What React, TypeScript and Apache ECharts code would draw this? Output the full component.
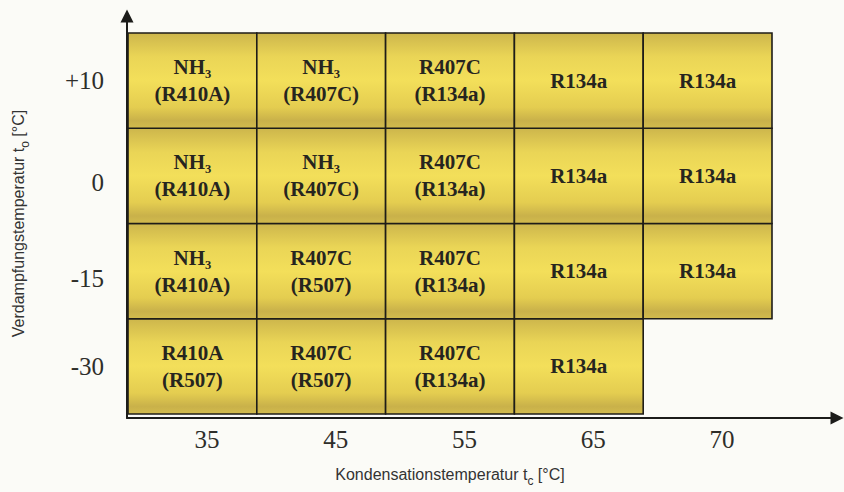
import React, { useEffect, useRef } from "react";
import * as echarts from "echarts";

// Kondensationstemperatur t_c [°C] (x categories)
const condTemps = ["35", "45", "55", "65", "70"];
// Verdampfungstemperatur t_o [°C] (y categories, bottom to top)
const evapTemps = ["-30", "-15", "0", "+10"];
// Primary refrigerant per row (bottom to top) and column
const primary: (string | null)[][] = [
  ["R410A", "R407C", "R407C", "R134a", null],
  ["NH₃", "R407C", "R407C", "R134a", "R134a"],
  ["NH₃", "NH₃", "R407C", "R134a", "R134a"],
  ["NH₃", "NH₃", "R407C", "R134a", "R134a"],
];
// Alternative refrigerant (in brackets)
const alternative: (string | null)[][] = [
  ["R507", "R507", "R134a", null, null],
  ["R410A", "R507", "R134a", null, null],
  ["R410A", "R407C", "R134a", null, null],
  ["R410A", "R407C", "R134a", null, null],
];

export default function App() {
  const ref = useRef<HTMLDivElement>(null);
  useEffect(() => {
    if (!ref.current) return;
    const chart = echarts.init(ref.current, undefined, { renderer: "svg" });

    const data: any[] = [];
    primary.forEach((row, yi) =>
      row.forEach((p, xi) => {
        if (p) data.push([xi, yi, p, alternative[yi][xi] || ""]);
      })
    );

    const serif = "'Liberation Serif', 'Times New Roman', serif";
    const sans = "'Liberation Sans', Arial, sans-serif";
    const tickColor = "#2e2e2a";
    const yl = { fontFamily: serif, fontSize: 25, color: tickColor };

    const arrowAxis = {
      type: "value",
      gridIndex: 1,
      min: 0,
      max: 1,
      axisLine: {
        show: true,
        onZero: false,
        symbol: ["none", "triangle"],
        symbolSize: [13, 13],
        lineStyle: { color: "#1c1c1a", width: 2 },
      },
      axisTick: { show: false },
      axisLabel: { show: false },
      splitLine: { show: false },
    };

    const titleRich = {
      n: { fontFamily: sans, fontSize: 16, color: "#333", verticalAlign: "top", lineHeight: 18 },
      s: { fontFamily: sans, fontSize: 12, color: "#333", verticalAlign: "top", lineHeight: 12, padding: [9, 0, 0, 0] },
    };

    chart.setOption({
      animation: false,
      backgroundColor: "#fbfbf7",
      grid: [
        { left: 128, top: 33, width: 644, height: 385 },
        { left: 127, top: 16, right: 7, bottom: 74 },
      ],
      xAxis: [
        {
          type: "category",
          gridIndex: 0,
          data: condTemps,
          axisLine: { show: false },
          axisTick: { show: false },
          splitLine: { show: false },
          axisLabel: {
            margin: 13,
            fontFamily: serif,
            fontSize: 25,
            color: tickColor,
            padding: [0, 0, 0, 29],
          },
          name: "{n|Kondensationstemperatur t}{s|c}{n| [°C]}",
          nameLocation: "middle",
          nameGap: 52,
          nameTextStyle: { fontFamily: sans, fontSize: 16, color: "#333", rich: titleRich },
        },
        arrowAxis,
      ],
      yAxis: [
        {
          type: "category",
          gridIndex: 0,
          data: evapTemps,
          axisLine: { show: false },
          axisTick: { show: false },
          splitLine: { show: false },
          axisLabel: {
            margin: 24,
            fontFamily: serif,
            fontSize: 25,
            color: tickColor,
            formatter: (v: string) =>
              v === "0" || v === "-15" ? `{d|${v}}` : `{a|${v}}`,
            rich: {
              a: { ...yl },
              d: { ...yl, padding: [14, 0, 0, 0] },
            },
          },
          name: "{n|Verdampfungstemperatur t}{s|o}{n| [°C]}",
          nameLocation: "middle",
          nameGap: 100,
          nameTextStyle: { fontFamily: sans, fontSize: 16, color: "#333", rich: titleRich },
        },
        arrowAxis,
      ],
      series: [
        {
          type: "custom",
          xAxisIndex: 0,
          yAxisIndex: 0,
          data,
          renderItem: (params: any, api: any) => {
            const xi = api.value(0);
            const yi = api.value(1);
            const c = api.coord([xi, yi]);
            const s = api.size([1, 1]);
            const p = data[params.dataIndex][2];
            const a = data[params.dataIndex][3];
            const text = a ? `${p}\n(${a})` : p;
            return {
              type: "group",
              children: [
                {
                  type: "rect",
                  shape: { x: c[0] - s[0] / 2, y: c[1] - s[1] / 2, width: s[0], height: s[1] },
                  style: {
                    fill: new echarts.graphic.LinearGradient(0, 0, 0, 1, [
                      { offset: 0, color: "#cdb64c" },
                      { offset: 0.25, color: "#ead556" },
                      { offset: 0.5, color: "#f3df5a" },
                      { offset: 0.78, color: "#e4cd50" },
                      { offset: 0.92, color: "#c9b14a" },
                      { offset: 1, color: "#d2bb4d" },
                    ]),
                    stroke: "#1e1d18",
                    lineWidth: 1.6,
                  },
                },
                {
                  type: "text",
                  style: {
                    text,
                    x: c[0],
                    y: c[1],
                    align: "center",
                    verticalAlign: "middle",
                    fill: "#26251f",
                    fontFamily: serif,
                    fontWeight: "bold",
                    fontSize: 21,
                    lineHeight: 27,
                  },
                },
              ],
            };
          },
        },
      ],
    });
    return () => chart.dispose();
  }, []);
  return (
    <div
      ref={ref}
      style={{ position: "fixed", left: 0, top: 0, width: 844, height: 492 }}
    />
  );
}
